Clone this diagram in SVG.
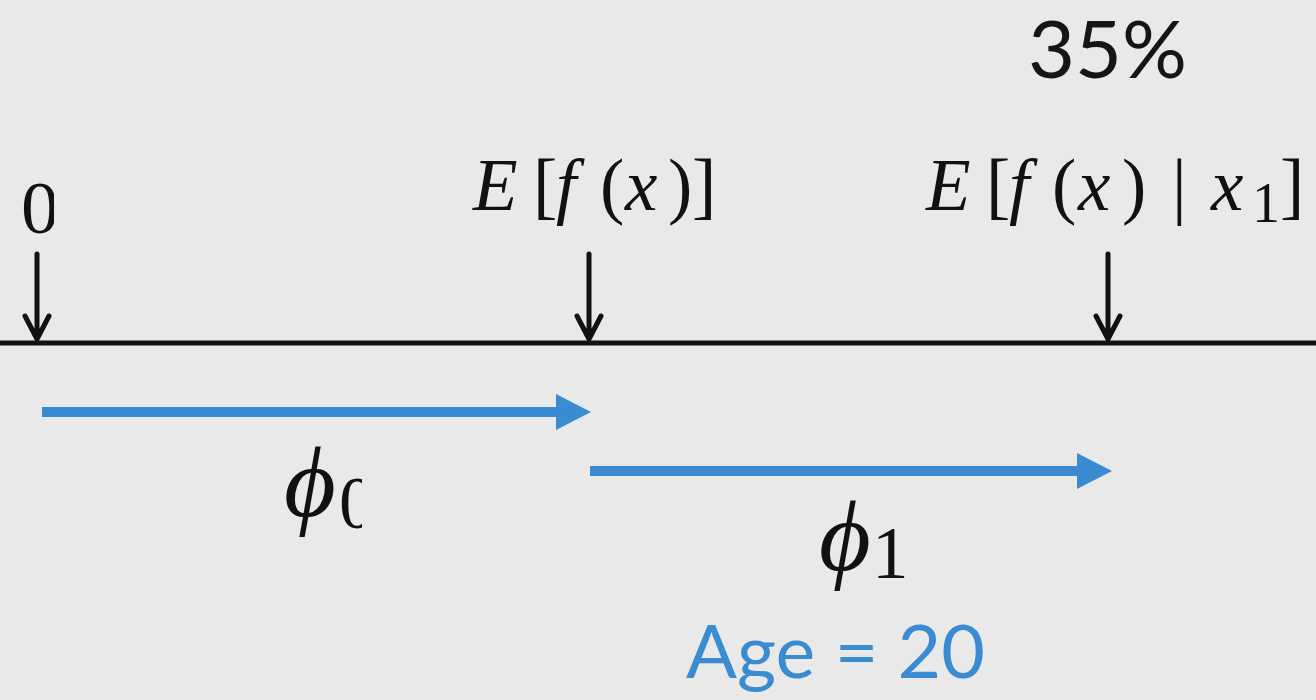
<svg xmlns="http://www.w3.org/2000/svg" width="1316" height="700" viewBox="0 0 1316 700">
<defs>
<style>
.math{font-family:"Liberation Serif","DejaVu Serif",serif;font-size:73px;fill:#111}
.phi{font-family:"Liberation Serif","DejaVu Serif",serif;font-style:italic;font-size:100px;fill:#111}
.it{font-style:italic}
.sans{font-family:Lato,"Open Sans",sans-serif}
.tick{stroke:#111;stroke-width:5;fill:none;stroke-linecap:round;stroke-linejoin:round}
.blue{fill:#3A8BD0}
</style>
<clipPath id="clip0"><rect x="0" y="150" width="54" height="100"/></clipPath>
<clipPath id="clipSub0"><rect x="330" y="470" width="32" height="70"/></clipPath>
</defs>
<rect width="1316" height="700" fill="#E9E9E9"/>
<g id="title">
<text class="sans" x="1028" y="78" font-size="80" fill="#151515" textLength="159" lengthAdjust="spacingAndGlyphs">35%</text>
</g>
<g id="axis">
<line x1="0" y1="343" x2="1316" y2="343" stroke="#111" stroke-width="5"/>
</g>
<g id="label-zero">
<text class="math" x="21" y="233" font-size="88" textLength="38" lengthAdjust="spacingAndGlyphs" clip-path="url(#clip0)">0</text>
</g>
<g id="label-expected">
<text class="math" y="210"><tspan class="it" x="473">E</tspan><tspan x="533">[</tspan><tspan class="it" x="556">f</tspan><tspan x="600">(</tspan><tspan class="it" x="625">x</tspan><tspan x="668">)</tspan><tspan x="692">]</tspan></text>
</g>
<g id="label-conditional">
<text class="math" y="210"><tspan class="it" x="926">E</tspan><tspan x="986">[</tspan><tspan class="it" x="1009">f</tspan><tspan x="1052">(</tspan><tspan class="it" x="1078">x</tspan><tspan x="1122">)</tspan><tspan x="1172">|</tspan><tspan class="it" x="1211">x</tspan><tspan x="1252" y="222" font-size="56">1</tspan><tspan x="1280" y="210">]</tspan></text>
</g>
<g id="connectors">
<g id="tick-0"><path class="tick" d="M37 254V339M25 316L37 339L49 316"/></g>
<g id="tick-ef"><path class="tick" d="M589 254V339M577 316L589 339L601 316"/></g>
<g id="tick-efx1"><path class="tick" d="M1108 254V339M1096 316L1108 339L1120 316"/></g>
<g id="arrow-phi0"><path class="blue" d="M42 407H556V394L591 412L556 430V417H42Z"/></g>
<g id="arrow-phi1"><path class="blue" d="M590 466H1077V453L1112 471L1077 489V476H590Z"/></g>
</g>
<g id="label-phi0">
<text class="phi" x="284" y="516">ϕ</text>
<text class="math" x="339" y="528" font-size="56" clip-path="url(#clipSub0)">0</text>
</g>
<g id="label-phi1">
<text class="phi" x="819" y="570">ϕ</text>
<text class="math" x="872" y="578" font-size="56">1</text>
</g>
<g id="label-age">
<text class="sans" x="686" y="678" font-size="74" fill="#3A8BD0" textLength="299" lengthAdjust="spacingAndGlyphs">Age = 20</text>
</g>
</svg>
